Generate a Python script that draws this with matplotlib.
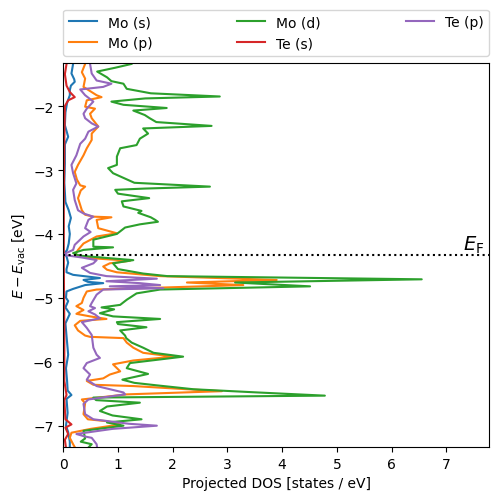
import numpy as np
import matplotlib.pyplot as plt

E_F = -4.33

# energies (eV) and projected DOS (states/eV)
e_mo_s = [-1.30, -1.34, -1.49, -1.58, -1.62, -1.68, -1.75, -1.83, -1.95, -2.10, -2.30, -2.48, -2.60,
          -2.90, -3.20, -3.50, -3.63, -3.75, -3.88, -4.00, -4.15, -4.25, -4.31, -4.35, -4.45, -4.55,
          -4.60, -4.64, -4.69, -4.72, -4.75, -4.77, -4.80, -4.86, -4.90, -5.00, -5.05, -5.15, -5.25,
          -5.40, -5.60, -5.89, -6.10, -6.30, -6.45, -6.52, -6.58, -6.80, -7.00, -7.10, -7.25, -7.35]
mo_s = [0.18, 0.18, 0.15, 0.20, 0.21, 0.14, 0.12, 0.12, 0.07, 0.04, 0.03, 0.09, 0.03,
        0.03, 0.02, 0.04, 0.10, 0.14, 0.10, 0.12, 0.10, 0.07, 0.02, 0.06, 0.09, 0.06,
        0.06, 0.18, 0.67, 0.37, 0.45, 0.73, 0.40, 0.18, 0.06, 0.05, 0.09, 0.04, 0.12,
        0.04, 0.06, 0.09, 0.05, 0.07, 0.08, 0.15, 0.06, 0.08, 0.05, 0.09, 0.12, 0.12]

e_mo_p = [-1.30, -1.34, -1.47, -1.57, -1.70, -1.83, -1.86, -1.91, -2.01, -2.04, -2.12, -2.19, -2.32,
          -2.43, -2.53, -2.66, -2.77, -2.92, -3.03, -3.15, -3.24, -3.26, -3.32, -3.44, -3.63, -3.70,
          -3.73, -3.74, -3.78, -3.91, -3.99, -4.04, -4.15, -4.25, -4.33, -4.38, -4.42, -4.46, -4.51,
          -4.56, -4.60, -4.66, -4.72, -4.76, -4.80, -4.84, -4.87, -4.90, -5.00, -5.08, -5.13, -5.19,
          -5.25, -5.29, -5.33, -5.36, -5.43, -5.51, -5.59, -5.61, -5.63, -5.70, -5.78, -5.86, -5.92,
          -5.98, -6.04, -6.15, -6.20, -6.26, -6.30, -6.36, -6.38, -6.43, -6.46, -6.51, -6.59, -6.65,
          -6.82, -6.90, -6.93, -6.98, -7.05, -7.11, -7.19, -7.29, -7.35]
mo_p = [0.40, 0.40, 0.34, 0.40, 0.37, 0.61, 0.70, 0.43, 0.40, 0.58, 0.49, 0.52, 0.64,
        0.52, 0.52, 0.43, 0.37, 0.27, 0.21, 0.25, 0.31, 0.40, 0.32, 0.27, 0.34, 0.40,
        0.55, 0.88, 0.61, 0.64, 0.98, 0.61, 0.37, 0.27, 0.21, 0.52, 1.22, 0.85, 0.73,
        0.80, 0.98, 1.77, 3.90, 2.26, 3.29, 1.77, 0.61, 0.43, 0.37, 0.34, 0.24, 0.37,
        0.24, 0.49, 0.79, 0.31, 0.21, 0.27, 0.40, 0.49, 1.10, 1.16, 1.28, 1.46, 2.01,
        1.28, 0.91, 1.04, 0.85, 0.73, 0.43, 0.55, 1.28, 2.26, 2.90, 1.16, 0.34, 0.40,
        0.37, 0.45, 0.80, 1.04, 0.50, 0.15, 0.12, 0.18, 0.22]

e_mo_d = [-1.30, -1.34, -1.40, -1.46, -1.55, -1.61, -1.65, -1.73, -1.80, -1.85, -1.88, -1.93, -1.98,
          -2.03, -2.07, -2.14, -2.19, -2.25, -2.31, -2.35, -2.43, -2.51, -2.61, -2.66, -2.79, -2.92,
          -2.97, -3.05, -3.20, -3.26, -3.29, -3.31, -3.37, -3.44, -3.49, -3.57, -3.64, -3.67, -3.74,
          -3.78, -3.81, -3.85, -3.90, -4.00, -4.09, -4.20, -4.21, -4.25, -4.30, -4.34, -4.38, -4.41,
          -4.46, -4.55, -4.62, -4.66, -4.71, -4.76, -4.82, -4.87, -4.93, -5.03, -5.11, -5.15, -5.18,
          -5.24, -5.29, -5.33, -5.38, -5.41, -5.46, -5.51, -5.59, -5.63, -5.70, -5.78, -5.86, -5.92,
          -6.02, -6.10, -6.19, -6.28, -6.33, -6.37, -6.43, -6.48, -6.53, -6.56, -6.60, -6.64, -6.70,
          -6.77, -6.84, -6.90, -6.95, -7.00, -7.08, -7.20, -7.25, -7.29, -7.35]
mo_d = [1.30, 1.25, 0.95, 0.62, 0.80, 0.88, 1.10, 1.16, 1.60, 2.86, 1.50, 0.88, 1.10,
        1.89, 1.28, 1.49, 1.58, 1.70, 2.71, 1.46, 1.55, 1.40, 1.34, 1.04, 0.98, 0.98,
        0.82, 0.91, 1.30, 2.68, 1.50, 0.95, 1.00, 1.57, 1.07, 1.10, 1.43, 1.37, 1.60,
        1.68, 1.73, 1.40, 1.13, 0.98, 0.55, 0.55, 0.91, 0.37, 0.18, 0.30, 0.85, 1.28,
        0.91, 1.00, 1.46, 1.90, 6.55, 3.14, 4.51, 1.77, 1.34, 1.16, 1.04, 0.70, 0.93,
        0.67, 0.91, 1.77, 0.98, 1.00, 1.52, 1.04, 1.13, 1.15, 1.25, 1.46, 1.65, 2.19,
        1.22, 1.16, 1.55, 1.08, 1.30, 1.72, 2.38, 3.55, 4.78, 0.55, 0.60, 1.40, 0.80,
        0.67, 0.90, 1.43, 0.80, 1.10, 0.37, 0.40, 0.32, 0.52, 0.45]

e_te_s = [-1.30, -1.34, -1.50, -1.68, -1.78, -1.86, -1.91, -2.00, -2.50, -3.50, -4.50, -5.50, -6.30,
          -6.52, -6.60, -6.90, -6.98, -7.03, -7.13, -7.22, -7.35]
te_s = [0.09, 0.06, 0.03, 0.06, 0.12, 0.21, 0.09, 0.03, 0.02, 0.01, 0.01, 0.02, 0.02,
        0.06, 0.02, 0.04, 0.15, 0.04, 0.09, 0.03, 0.05]

e_te_p = [-1.30, -1.34, -1.49, -1.60, -1.65, -1.70, -1.74, -1.83, -1.93, -2.04, -2.12, -2.19, -2.27,
          -2.32, -2.40, -2.51, -2.59, -2.77, -2.92, -3.05, -3.21, -3.31, -3.47, -3.63, -3.68, -3.73,
          -3.78, -3.91, -3.97, -4.04, -4.17, -4.25, -4.30, -4.33, -4.37, -4.41, -4.46, -4.53, -4.61,
          -4.66, -4.70, -4.74, -4.77, -4.80, -4.82, -4.85, -4.87, -4.95, -5.08, -5.13, -5.16, -5.21,
          -5.26, -5.32, -5.38, -5.47, -5.58, -5.78, -5.89, -5.94, -6.02, -6.10, -6.20, -6.28, -6.38,
          -6.48, -6.51, -6.59, -6.66, -6.82, -6.90, -6.97, -7.00, -7.05, -7.13, -7.17, -7.19, -7.29,
          -7.35]
te_p = [0.49, 0.49, 0.52, 0.61, 0.88, 0.73, 0.31, 0.40, 0.55, 0.43, 0.37, 0.40, 0.52,
        0.64, 0.46, 0.40, 0.31, 0.24, 0.15, 0.18, 0.24, 0.18, 0.21, 0.27, 0.37, 0.55,
        0.46, 0.40, 0.50, 0.37, 0.21, 0.18, 0.05, 0.02, 0.35, 0.61, 0.55, 0.34, 0.49,
        0.79, 1.71, 0.79, 1.40, 1.77, 0.85, 1.83, 0.73, 0.61, 0.52, 0.49, 0.58, 0.46,
        0.58, 0.67, 0.34, 0.43, 0.52, 0.55, 0.61, 0.67, 0.43, 0.37, 0.49, 0.43, 0.61,
        1.10, 1.13, 0.46, 0.37, 0.40, 0.55, 1.20, 1.71, 0.90, 0.24, 0.40, 0.52, 0.61,
        0.62]

series = [('Mo (s)', e_mo_s, mo_s), ('Mo (p)', e_mo_p, mo_p), ('Mo (d)', e_mo_d, mo_d),
          ('Te (s)', e_te_s, te_s), ('Te (p)', e_te_p, te_p)]

fig, ax = plt.subplots(figsize=(4.98, 5.02), dpi=100)
fig.subplots_adjust(left=0.127, right=0.982, bottom=0.108, top=0.872)

for label, e, d in series:
    ax.plot(d, e, label=label)

ax.axhline(E_F, color='black', linestyle=':')
ax.set_xlim(0, 7.78)
ax.set_ylim(E_F - 3, E_F + 3)
ax.text(7.7, E_F, r'$E_\mathrm{F}$', fontsize=14, ha='right', va='bottom')
ax.set_xlabel('Projected DOS [states / eV]')
ax.set_ylabel(r'$E - E_\mathrm{vac}$ [eV]')
ax.legend(bbox_to_anchor=(0, 1.02, 1, 0.2), loc='lower left', ncols=3,
          mode='expand', borderaxespad=0)

fig.savefig('out.png')
